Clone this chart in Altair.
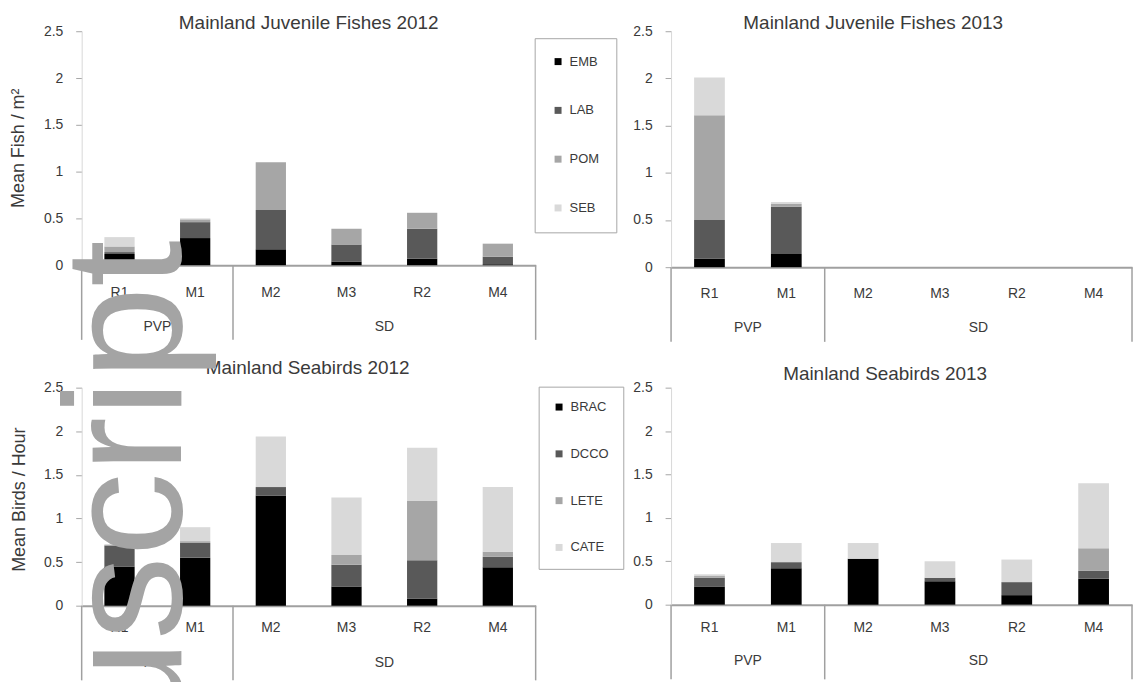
import altair as alt
import pandas as pd

FONT = "Liberation Sans"
TEXT = "#3a3a3a"
AXIS_GREY = "#a0a0a0"

# ---------------- data ----------------
sites = ["R1", "M1", "M2", "M3", "R2", "M4"]
group_names = ["PVP", "SD"]
group_centre_sites = ["M1", "R2"]       # group label sits at the start of this band
divider_start_sites = ["R1", "M2"]      # dividers at band starts
divider_end_sites = ["M4"]              # divider at band end

fish_species = ["EMB", "LAB", "POM", "SEB"]
bird_species = ["BRAC", "DCCO", "LETE", "CATE"]
shade_range = ["#000000", "#595959", "#a6a6a6", "#d9d9d9"]

y_ticks = [0, 0.5, 1, 1.5, 2, 2.5]

fish2012_emb = [0.12, 0.29, 0.17, 0.04, 0.07, 0.01]
fish2012_lab = [0.02, 0.17, 0.42, 0.18, 0.32, 0.08]
fish2012_pom = [0.06, 0.03, 0.51, 0.17, 0.17, 0.14]
fish2012_seb = [0.10, 0.01, 0.00, 0.00, 0.00, 0.00]

fish2013_emb = [0.09, 0.14, 0.00, 0.00, 0.00, 0.00]
fish2013_lab = [0.41, 0.50, 0.00, 0.00, 0.00, 0.00]
fish2013_pom = [1.11, 0.03, 0.00, 0.00, 0.00, 0.00]
fish2013_seb = [0.40, 0.02, 0.00, 0.00, 0.00, 0.00]

birds2012_brac = [0.45, 0.55, 1.26, 0.22, 0.08, 0.44]
birds2012_dcco = [0.24, 0.17, 0.10, 0.25, 0.44, 0.12]
birds2012_lete = [0.01, 0.02, 0.00, 0.11, 0.68, 0.06]
birds2012_cate = [0.00, 0.16, 0.58, 0.66, 0.61, 0.74]

birds2013_brac = [0.21, 0.42, 0.53, 0.27, 0.11, 0.30]
birds2013_dcco = [0.10, 0.07, 0.00, 0.04, 0.15, 0.09]
birds2013_lete = [0.02, 0.00, 0.00, 0.00, 0.00, 0.26]
birds2013_cate = [0.02, 0.22, 0.18, 0.19, 0.26, 0.75]

titles = ["Mainland Juvenile Fishes 2012", "Mainland Juvenile Fishes 2013",
          "Mainland Seabirds 2012", "Mainland Seabirds 2013"]
y_titles = ["Mean Fish / m\u00b2", "Mean Birds / Hour"]
watermark = ["Manuscript"]


def panel(title, species, series, w, h, title_x, title_y,
          y_title=None, y_title_xy=None, legend_xy=None, legend_pad=16,
          legend_row=35, label_pad=20, group_dy=61, extra=None):
    rows = []
    for k, (sp, vals) in enumerate(zip(species, series)):
        for s, v in zip(sites, vals):
            rows.append({"site": s, "species": sp, "value": v, "k": k})
    df = pd.DataFrame(rows)

    x_scale = alt.Scale(domain=sites, paddingInner=0, paddingOuter=0)
    x_axis = alt.Axis(title=None, labelAngle=0, ticks=False, tickSize=0,
                      domainColor=AXIS_GREY, domainWidth=2,
                      labelPadding=label_pad, labelFontSize=14,
                      labelFont=FONT, labelColor=TEXT)
    ykw = dict(values=y_ticks, format="~g", grid=False, domainColor="#d9d9d9",
               tickColor="#a6a6a6", tickSize=6, labelPadding=13,
               labelFontSize=14, labelFont=FONT, labelColor=TEXT)
    if y_title:
        y_axis = alt.Axis(title=y_title, titleFont=FONT, titleFontSize=18,
                          titleFontWeight="normal", titleColor=TEXT,
                          titleX=y_title_xy[0], titleY=y_title_xy[1],
                          titleAngle=270, titleAlign="center",
                          titleBaseline="middle", **ykw)
    else:
        y_axis = alt.Axis(title=None, **ykw)

    if legend_xy:
        legend = alt.Legend(title=None, orient="none", legendX=legend_xy[0],
                            legendY=legend_xy[1], direction="vertical",
                            strokeColor="#a6a6a6", fillColor="#ffffff",
                            padding=legend_pad, rowPadding=legend_row,
                            symbolType="square", symbolSize=49,
                            symbolStrokeWidth=0, labelFont=FONT,
                            labelFontSize=13, labelColor=TEXT, labelOffset=5)
    else:
        legend = None

    bars = alt.Chart(df).mark_bar(width=alt.RelativeBandSize(band=0.4)).encode(
        x=alt.X("site:N", sort=sites, scale=x_scale, axis=x_axis),
        y=alt.Y("value:Q", stack="zero",
                scale=alt.Scale(domain=[0, 2.5], nice=False), axis=y_axis),
        color=alt.Color("species:N", sort=species,
                        scale=alt.Scale(domain=species, range=shade_range),
                        legend=legend),
        order=alt.Order("k:Q", sort="ascending"),
    )

    div_a = alt.Chart(pd.DataFrame({"site": divider_start_sites})).mark_rule(
        color=AXIS_GREY, strokeWidth=1.5).encode(
        x=alt.X("site:N", sort=sites, scale=x_scale, bandPosition=0, axis=x_axis),
        y=alt.value(h), y2=alt.value(h + 75))
    div_b = alt.Chart(pd.DataFrame({"site": divider_end_sites})).mark_rule(
        color=AXIS_GREY, strokeWidth=1.5).encode(
        x=alt.X("site:N", sort=sites, scale=x_scale, bandPosition=1, axis=x_axis),
        y=alt.value(h), y2=alt.value(h + 75))

    grp = alt.Chart(pd.DataFrame({"group": group_names,
                                  "site": group_centre_sites})).mark_text(
        font=FONT, fontSize=14, color=TEXT, baseline="middle").encode(
        x=alt.X("site:N", sort=sites, scale=x_scale, bandPosition=0, axis=x_axis),
        y=alt.value(h + group_dy), text="group:N")

    ttl = alt.Chart(pd.DataFrame({"t": [title]})).mark_text(
        font=FONT, fontSize=19, color=TEXT, baseline="middle", align="center").encode(
        x=alt.value(title_x), y=alt.value(title_y), text="t:N")

    layers = [bars, div_a, div_b, grp, ttl] + (extra or [])
    return alt.layer(*layers).properties(width=w, height=h)


wm = alt.Chart(pd.DataFrame({"w": watermark})).mark_text(
    font=FONT, fontSize=168, color="#a4a4a4", angle=270, align="right",
    baseline="alphabetic").encode(x=alt.value(100), y=alt.value(-148), text="w:N")

tl = panel(titles[0], fish_species,
           [fish2012_emb, fish2012_lab, fish2012_pom, fish2012_seb],
           456, 235, 228, -8, y_title=y_titles[0], y_title_xy=(-63, 117),
           legend_xy=(455, 7), legend_pad=17, legend_row=35,
           label_pad=20, group_dy=62)
tr = panel(titles[1], fish_species,
           [fish2013_emb, fish2013_lab, fish2013_pom, fish2013_seb],
           463, 237, 203, -8, label_pad=19, group_dy=61)
bl = panel(titles[2], bird_species,
           [birds2012_brac, birds2012_dcco, birds2012_lete, birds2012_cate],
           456, 219, 227, -20, y_title=y_titles[1], y_title_xy=(-62, 112),
           legend_xy=(459, -1), legend_pad=14, legend_row=33,
           label_pad=15, group_dy=58, extra=[wm])
br = panel(titles[3], bird_species,
           [birds2013_brac, birds2013_dcco, birds2013_lete, birds2013_cate],
           463, 218, 215, -14, label_pad=16, group_dy=57)

chart = alt.concat(tl, tr, bl, br, columns=2, spacing={"row": 121, "column": 136},
                   bounds="flush", align="each").resolve_scale(
    color="independent").properties(
    padding={"left": 2, "top": 4, "right": 2, "bottom": 0},
    background="#ffffff").configure_view(strokeWidth=0)

chart.save("out.html", embed_options={"renderer": "svg", "actions": False})
